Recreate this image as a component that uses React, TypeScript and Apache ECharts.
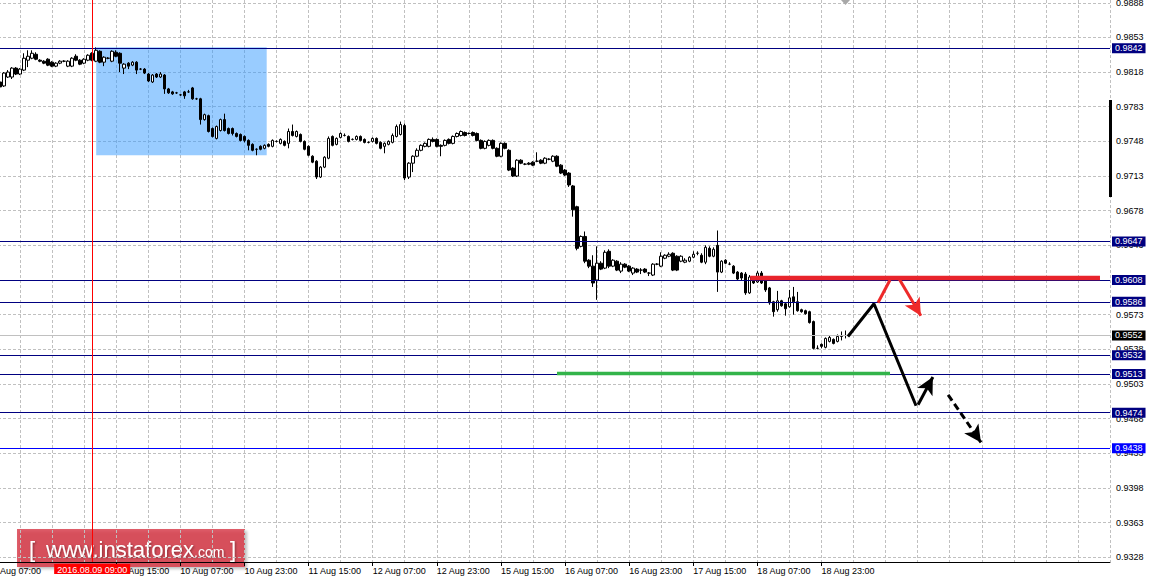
import { useEffect, useRef } from "react";
import * as echarts from "echarts";

// ---------- time slots (H1 bars, weekend skipped) ----------
const tradingDays = ["08", "09", "10", "11", "12", "15", "16", "17", "18", "19", "22", "23"];
const firstHour = 7;
const slotCount = 281;
const lastBarIndex = 214;

function buildTimes(): string[] {
  const out: string[] = [];
  let d = 0;
  let h = firstHour;
  for (let i = 0; i < slotCount; i++) {
    out.push(`${tradingDays[d]} Aug ${String(h).padStart(2, "0")}:00`);
    h++;
    if (h === 24) {
      h = 0;
      d++;
    }
  }
  return out;
}
const times = buildTimes();

// ---------- candles: [open, close, low, high] ----------
const candles: (number[] | null)[] = [
  null, null, null,
  [0.9808, 0.9803, 0.9801, 0.9810], [0.9804, 0.9817, 0.9803, 0.9818], [0.9813, 0.9818, 0.9812, 0.9820],
  [0.9813, 0.9822, 0.9811, 0.9823], [0.9822, 0.9816, 0.9815, 0.9823], [0.9816, 0.9821, 0.9815, 0.9822],
  [0.9820, 0.9832, 0.9819, 0.9837], [0.9830, 0.9834, 0.9823, 0.9840], [0.9832, 0.9837, 0.9831, 0.9840],
  [0.9836, 0.9831, 0.9830, 0.9838], [0.9830, 0.9829, 0.9828, 0.9831], [0.9829, 0.9827, 0.9826, 0.9830],
  [0.9831, 0.9825, 0.9824, 0.9832], [0.9828, 0.9824, 0.9823, 0.9829], [0.9824, 0.9827, 0.9823, 0.9828],
  [0.9827, 0.9829, 0.9826, 0.9830], [0.9829, 0.9829, 0.9828, 0.9830], [0.9824, 0.9829, 0.9823, 0.9830],
  [0.9824, 0.9832, 0.9823, 0.9833], [0.9834, 0.9830, 0.9829, 0.9836], [0.9830, 0.9826, 0.9825, 0.9831],
  [0.9827, 0.9831, 0.9826, 0.9832], [0.9830, 0.9835, 0.9829, 0.9836], [0.9837, 0.9830, 0.9829, 0.9838],
  [0.9829, 0.9840, 0.9828, 0.9843], [0.9839, 0.9828, 0.9827, 0.9840], [0.9828, 0.9833, 0.9824, 0.9834],
  [0.9832, 0.9832, 0.9831, 0.9833], [0.9829, 0.9839, 0.9828, 0.9840], [0.9838, 0.9834, 0.9833, 0.9840],
  [0.9837, 0.9827, 0.9818, 0.9838], [0.9822, 0.9826, 0.9816, 0.9827], [0.9827, 0.9824, 0.9821, 0.9828],
  [0.9825, 0.9828, 0.9824, 0.9829], [0.9828, 0.9820, 0.9816, 0.9829], [0.9821, 0.9821, 0.9820, 0.9822],
  [0.9821, 0.9817, 0.9816, 0.9822], [0.9816, 0.9809, 0.9808, 0.9817], [0.9808, 0.9815, 0.9807, 0.9816],
  [0.9816, 0.9813, 0.9812, 0.9817], [0.9813, 0.9816, 0.9812, 0.9818], [0.9815, 0.9801, 0.9796, 0.9816],
  [0.9801, 0.9797, 0.9796, 0.9802], [0.9798, 0.9796, 0.9795, 0.9799], [0.9797, 0.9797, 0.9796, 0.9798],
  [0.9795, 0.9795, 0.9794, 0.9796], [0.9798, 0.9794, 0.9791, 0.9799], [0.9798, 0.9798, 0.9797, 0.9800],
  [0.9802, 0.9791, 0.9790, 0.9803], [0.9791, 0.9791, 0.9790, 0.9792], [0.9791, 0.9770, 0.9765, 0.9792],
  [0.9770, 0.9775, 0.9769, 0.9776], [0.9774, 0.9758, 0.9757, 0.9775], [0.9761, 0.9753, 0.9752, 0.9762],
  [0.9751, 0.9763, 0.9750, 0.9764], [0.9759, 0.9770, 0.9758, 0.9771], [0.9770, 0.9759, 0.9758, 0.9776],
  [0.9761, 0.9756, 0.9755, 0.9762], [0.9761, 0.9756, 0.9754, 0.9762], [0.9756, 0.9753, 0.9752, 0.9757],
  [0.9755, 0.9749, 0.9748, 0.9756], [0.9753, 0.9749, 0.9747, 0.9754], [0.9749, 0.9744, 0.9739, 0.9750],
  [0.9745, 0.9739, 0.9738, 0.9746], [0.9740, 0.9740, 0.9734, 0.9741], [0.9743, 0.9740, 0.9739, 0.9744],
  [0.9741, 0.9744, 0.9740, 0.9745], [0.9745, 0.9743, 0.9742, 0.9746], [0.9743, 0.9749, 0.9742, 0.9750],
  [0.9748, 0.9748, 0.9747, 0.9749], [0.9746, 0.9750, 0.9745, 0.9751], [0.9748, 0.9744, 0.9743, 0.9749],
  [0.9746, 0.9758, 0.9741, 0.9761], [0.9758, 0.9754, 0.9753, 0.9765], [0.9753, 0.9758, 0.9752, 0.9759],
  [0.9755, 0.9748, 0.9747, 0.9756], [0.9748, 0.9740, 0.9739, 0.9749], [0.9743, 0.9734, 0.9733, 0.9744],
  [0.9733, 0.9727, 0.9726, 0.9734], [0.9728, 0.9712, 0.9710, 0.9729], [0.9712, 0.9722, 0.9711, 0.9723],
  [0.9722, 0.9732, 0.9721, 0.9733], [0.9731, 0.9751, 0.9730, 0.9753], [0.9753, 0.9744, 0.9743, 0.9754],
  [0.9745, 0.9751, 0.9744, 0.9752], [0.9752, 0.9756, 0.9751, 0.9757], [0.9754, 0.9754, 0.9753, 0.9756],
  [0.9753, 0.9748, 0.9747, 0.9754], [0.9750, 0.9750, 0.9749, 0.9751], [0.9750, 0.9753, 0.9749, 0.9754],
  [0.9753, 0.9749, 0.9748, 0.9754], [0.9750, 0.9747, 0.9746, 0.9751], [0.9747, 0.9747, 0.9746, 0.9748],
  [0.9748, 0.9751, 0.9747, 0.9752], [0.9751, 0.9746, 0.9745, 0.9752], [0.9747, 0.9741, 0.9740, 0.9748],
  [0.9743, 0.9746, 0.9736, 0.9747], [0.9745, 0.9748, 0.9744, 0.9749], [0.9747, 0.9754, 0.9746, 0.9756],
  [0.9753, 0.9763, 0.9752, 0.9765], [0.9755, 0.9765, 0.9754, 0.9768], [0.9764, 0.9711, 0.9709, 0.9766],
  [0.9712, 0.9726, 0.9710, 0.9727], [0.9726, 0.9733, 0.9717, 0.9734], [0.9733, 0.9739, 0.9732, 0.9741],
  [0.9739, 0.9744, 0.9738, 0.9745], [0.9743, 0.9746, 0.9742, 0.9747], [0.9743, 0.9750, 0.9742, 0.9751],
  [0.9750, 0.9748, 0.9747, 0.9752], [0.9750, 0.9743, 0.9742, 0.9751], [0.9744, 0.9743, 0.9733, 0.9745],
  [0.9744, 0.9749, 0.9743, 0.9750], [0.9750, 0.9746, 0.9745, 0.9751], [0.9746, 0.9753, 0.9745, 0.9754],
  [0.9753, 0.9756, 0.9752, 0.9757], [0.9754, 0.9758, 0.9753, 0.9759], [0.9757, 0.9754, 0.9753, 0.9758],
  [0.9756, 0.9756, 0.9755, 0.9757], [0.9757, 0.9754, 0.9753, 0.9758], [0.9756, 0.9749, 0.9748, 0.9757],
  [0.9749, 0.9741, 0.9740, 0.9750], [0.9741, 0.9748, 0.9740, 0.9749], [0.9744, 0.9749, 0.9743, 0.9750],
  [0.9749, 0.9741, 0.9740, 0.9750], [0.9741, 0.9733, 0.9732, 0.9742], [0.9733, 0.9746, 0.9732, 0.9747],
  [0.9746, 0.9741, 0.9740, 0.9747], [0.9739, 0.9719, 0.9718, 0.9740], [0.9721, 0.9713, 0.9712, 0.9722],
  [0.9713, 0.9729, 0.9712, 0.9730], [0.9729, 0.9726, 0.9725, 0.9730], [0.9725, 0.9725, 0.9724, 0.9726],
  [0.9726, 0.9725, 0.9724, 0.9727], [0.9727, 0.9724, 0.9723, 0.9728], [0.9728, 0.9728, 0.9727, 0.9737],
  [0.9729, 0.9726, 0.9725, 0.9730], [0.9726, 0.9731, 0.9725, 0.9732], [0.9730, 0.9730, 0.9729, 0.9731],
  [0.9728, 0.9733, 0.9727, 0.9734], [0.9733, 0.9723, 0.9722, 0.9734], [0.9724, 0.9716, 0.9715, 0.9725],
  [0.9719, 0.9714, 0.9713, 0.9720], [0.9716, 0.9704, 0.9702, 0.9717], [0.9703, 0.9679, 0.9672, 0.9704],
  [0.9682, 0.9640, 0.9638, 0.9683], [0.9642, 0.9652, 0.9641, 0.9653], [0.9652, 0.9627, 0.9625, 0.9657],
  [0.9628, 0.9622, 0.9620, 0.9629], [0.9622, 0.9605, 0.9601, 0.9633], [0.9608, 0.9625, 0.9588, 0.9642],
  [0.9625, 0.9619, 0.9618, 0.9627], [0.9620, 0.9636, 0.9619, 0.9638], [0.9637, 0.9622, 0.9620, 0.9639],
  [0.9622, 0.9628, 0.9621, 0.9629], [0.9627, 0.9618, 0.9617, 0.9628], [0.9617, 0.9624, 0.9615, 0.9626],
  [0.9624, 0.9621, 0.9620, 0.9625], [0.9622, 0.9617, 0.9616, 0.9623], [0.9615, 0.9620, 0.9613, 0.9621],
  [0.9619, 0.9616, 0.9615, 0.9620], [0.9618, 0.9618, 0.9614, 0.9620], [0.9619, 0.9616, 0.9615, 0.9620],
  [0.9615, 0.9615, 0.9612, 0.9616], [0.9613, 0.9624, 0.9612, 0.9625], [0.9624, 0.9624, 0.9623, 0.9625],
  [0.9622, 0.9632, 0.9621, 0.9636], [0.9630, 0.9633, 0.9629, 0.9634], [0.9632, 0.9634, 0.9631, 0.9636],
  [0.9635, 0.9618, 0.9617, 0.9636], [0.9632, 0.9618, 0.9617, 0.9633], [0.9627, 0.9632, 0.9626, 0.9633],
  [0.9626, 0.9628, 0.9625, 0.9630], [0.9627, 0.9631, 0.9626, 0.9632], [0.9631, 0.9634, 0.9630, 0.9637],
  [0.9635, 0.9635, 0.9633, 0.9637], [0.9633, 0.9626, 0.9625, 0.9635], [0.9626, 0.9641, 0.9624, 0.9643],
  [0.9640, 0.9632, 0.9631, 0.9642], [0.9632, 0.9639, 0.9631, 0.9641], [0.9643, 0.9616, 0.9596, 0.9658],
  [0.9616, 0.9627, 0.9615, 0.9628], [0.9628, 0.9625, 0.9624, 0.9629], [0.9624, 0.9624, 0.9623, 0.9626],
  [0.9622, 0.9615, 0.9614, 0.9623], [0.9616, 0.9609, 0.9607, 0.9617], [0.9615, 0.9610, 0.9608, 0.9616],
  [0.9614, 0.9595, 0.9593, 0.9616], [0.9595, 0.9611, 0.9594, 0.9613], [0.9611, 0.9605, 0.9604, 0.9612],
  [0.9606, 0.9615, 0.9605, 0.9617], [0.9615, 0.9605, 0.9604, 0.9617], [0.9607, 0.9598, 0.9596, 0.9608],
  [0.9600, 0.9585, 0.9583, 0.9601], [0.9586, 0.9576, 0.9571, 0.9587], [0.9578, 0.9587, 0.9576, 0.9597],
  [0.9587, 0.9582, 0.9581, 0.9588], [0.9584, 0.9579, 0.9572, 0.9585], [0.9581, 0.9590, 0.9580, 0.9598],
  [0.9591, 0.9586, 0.9573, 0.9601], [0.9586, 0.9577, 0.9576, 0.9596], [0.9578, 0.9576, 0.9575, 0.9579],
  [0.9577, 0.9574, 0.9573, 0.9578], [0.9576, 0.9565, 0.9564, 0.9577], [0.9566, 0.9539, 0.9538, 0.9567],
  [0.9539, 0.9539, 0.9538, 0.9542], [0.9543, 0.9541, 0.9539, 0.9544], [0.9540, 0.9549, 0.9539, 0.9550],
  [0.9546, 0.9550, 0.9545, 0.9552], [0.9548, 0.9544, 0.9543, 0.9549], [0.9546, 0.9551, 0.9545, 0.9553],
  [0.9551, 0.9551, 0.9547, 0.9556], [0.9552, 0.9552, 0.9549, 0.9557],
];

// ---------- price scale ----------
const priceMin = 0.93232;
const priceMax = 0.98908;
const priceTicks = [
  0.9888, 0.9853, 0.9818, 0.9783, 0.9748, 0.9713, 0.9678, 0.9643, 0.9608,
  0.9573, 0.9538, 0.9503, 0.9468, 0.9433, 0.9398, 0.9363, 0.9328,
];

// ---------- horizontal levels ----------
const navyLevels = [0.9842, 0.9647, 0.9608, 0.9586, 0.9532, 0.9513, 0.9474];
const blueLevel = 0.9438;
const bidPrice = 0.9552;

// ---------- vertical marker ----------
const markedSlot = 26;
const markedLabel = "2016.08.09 09:00";

// ---------- drawn objects: [slot, price] ----------
const boxCorners = [[27, 0.9843], [69.55, 0.9734]];
const redLevelLine = [[190.2, 0.961], [277.5, 0.961]];
const greenLine = [[142, 0.95135], [225.1, 0.95135]];
const blackPath = [[214.6, 0.9551], [221.1, 0.9584], [231.6, 0.9481]];
const blackUpArrow = [[232.1, 0.9482], [235.8, 0.951]];
const blackDashArrow = [[239.6, 0.9492], [247.8, 0.9444]];
const redRise = [[222.1, 0.9585], [225.1, 0.9608]];
const redArrow = [[227.4, 0.9609], [232.8, 0.9572]];

const FONT = "'Liberation Sans', Arial, sans-serif";

const labelAt = (i: number) => i % 16 === 0 && i <= lastBarIndex && i !== 16;

function levelItem(p: number, color: string, lineColor?: string) {
  return {
    yAxis: p,
    lineStyle: { color: lineColor || color, width: 1, type: "solid" },
    label: {
      show: true,
      position: "end",
      distance: 2,
      formatter: p.toFixed(4),
      backgroundColor: color,
      color: "#ffffff",
      padding: [1, 3, 0, 3],
      fontFamily: FONT,
      fontSize: 9,
    },
  };
}

const textShadow = {
  textShadowColor: "rgba(0,0,0,0.4)",
  textShadowBlur: 2,
  textShadowOffsetX: 1,
  textShadowOffsetY: 1,
};

export default function App() {
  const ref = useRef<HTMLDivElement>(null);

  useEffect(() => {
    if (!ref.current) return;
    const chart = echarts.init(ref.current, undefined, { renderer: "svg" });

    const candleData = candles.map((c) => (c ? c : ["-", "-", "-", "-"]));

    const option: any = {
      animation: false,
      backgroundColor: "#ffffff",
      grid: {
        left: -12,
        right: 41,
        top: 0,
        bottom: 19,
        containLabel: false,
        outerBoundsMode: "none",
      },
      xAxis: [
        {
          type: "category",
          data: times,
          boundaryGap: false,
          axisLine: { show: true, onZero: false, lineStyle: { color: "#000000", width: 1 } },
          axisTick: {
            show: true,
            interval: (i: number) => labelAt(i),
            length: 4,
            lineStyle: { color: "#000000" },
          },
          axisLabel: {
            show: true,
            interval: (i: number) => labelAt(i),
            align: "left",
            margin: 4,
            color: "#000000",
            fontFamily: FONT,
            fontSize: 9,
            hideOverlap: false,
          },
          splitLine: {
            show: true,
            interval: (i: number) => i % 8 === 0,
            lineStyle: { color: "#C0C0C0", type: [3, 2], width: 1 },
          },
        },
        { type: "value", gridIndex: 0, min: 0, max: slotCount - 1, show: false },
      ],
      yAxis: {
        type: "value",
        position: "right",
        min: priceMin,
        max: priceMax,
        axisLine: { show: true, lineStyle: { color: "#000000", width: 1 } },
        axisTick: { show: true, length: 4, customValues: priceTicks, lineStyle: { color: "#000000" } },
        axisLabel: {
          customValues: priceTicks,
          formatter: (v: number) => v.toFixed(4),
          margin: 6,
          color: "#000000",
          fontFamily: FONT,
          fontSize: 9,
        },
        splitLine: { show: true, lineStyle: { color: "#C0C0C0", type: [3, 2], width: 1 } },
      },
      series: [
        {
          type: "candlestick",
          name: "price",
          data: candleData,
          xAxisIndex: 0,
          yAxisIndex: 0,
          barWidth: 3,
          silent: true,
          z: 3,
          itemStyle: {
            color: "#ffffff",
            color0: "#000000",
            borderColor: "#000000",
            borderColor0: "#000000",
            borderWidth: 1,
          },
        },
        {
          type: "line",
          name: "levels",
          xAxisIndex: 1,
          yAxisIndex: 0,
          data: [],
          symbol: "none",
          silent: true,
          z: 2,
          lineStyle: { width: 0 },
          markArea: {
            silent: true,
            itemStyle: { color: "rgba(51,153,255,0.5)" },
            data: [[{ coord: boxCorners[0] }, { coord: boxCorners[1] }]],
          },
          markLine: {
            silent: true,
            animation: false,
            precision: 5,
            z: 4,
            symbol: ["none", "none"],
            data: [
              ...navyLevels.map((p) => levelItem(p, "#000080")),
              levelItem(blueLevel, "#0000FF"),
              levelItem(bidPrice, "#000000", "#C0C0C0"),
              {
                xAxis: markedSlot,
                lineStyle: { color: "#FF0000", width: 1, type: "solid" },
                label: {
                  show: true,
                  position: "start",
                  distance: 2,
                  formatter: markedLabel,
                  backgroundColor: "#FF0000",
                  color: "#ffffff",
                  padding: [1, 3, 0, 3],
                  fontFamily: FONT,
                  fontSize: 9,
                },
              },
            ],
          },
        },
        {
          type: "line",
          name: "support",
          xAxisIndex: 1,
          yAxisIndex: 0,
          data: greenLine,
          symbol: "none",
          silent: true,
          z: 8,
          lineStyle: { color: "#33B44A", width: 3.5 },
        },
        {
          type: "line",
          name: "resistance",
          xAxisIndex: 1,
          yAxisIndex: 0,
          data: redLevelLine,
          symbol: "none",
          silent: true,
          z: 8,
          lineStyle: { color: "#E8242C", width: 4.5 },
          markLine: {
            silent: true,
            animation: false,
            precision: 5,
            z: 8,
            symbol: ["none", "arrow"],
            symbolSize: [13, 17],
            label: { show: false },
            lineStyle: { color: "#EE2A2A", width: 3, type: "solid" },
            data: [
              [
                { coord: redRise[0], symbol: "none" },
                { coord: redRise[1], symbol: "none" },
              ],
              [{ coord: redArrow[0] }, { coord: redArrow[1] }],
            ],
          },
        },
        {
          type: "line",
          name: "forecast",
          xAxisIndex: 1,
          yAxisIndex: 0,
          data: blackPath,
          symbol: "none",
          silent: true,
          z: 8,
          lineStyle: { color: "#000000", width: 3 },
          markLine: {
            silent: true,
            animation: false,
            precision: 5,
            z: 8,
            symbol: ["none", "arrow"],
            symbolSize: [13, 17],
            label: { show: false },
            lineStyle: { color: "#000000", width: 3, type: "solid" },
            data: [
              [{ coord: blackUpArrow[0] }, { coord: blackUpArrow[1] }],
              [
                { coord: blackDashArrow[0], lineStyle: { type: [7, 4], color: "#000000", width: 3 } },
                { coord: blackDashArrow[1] },
              ],
            ],
          },
        },
      ],
      graphic: [
        {
          type: "polygon",
          shape: { points: [[841, 0], [850, 0], [845.5, 5]] },
          style: { fill: "#A8A8A8" },
          silent: true,
          z: 50,
        },
        {
          type: "rect",
          shape: { x: 1109, y: 100, width: 3, height: 97 },
          style: { fill: "#000000" },
          silent: true,
          z: 50,
        },
        {
          type: "group",
          z: 100,
          silent: true,
          children: [
            {
              type: "rect",
              shape: { x: 17, y: 529, width: 228, height: 38 },
              style: {
                fill: "rgba(212,37,48,0.72)",
                shadowBlur: 3,
                shadowColor: "rgba(0,0,0,0.35)",
                shadowOffsetX: 2,
                shadowOffsetY: 2,
              },
            },
            {
              type: "text",
              x: 29,
              y: 549,
              style: { text: "[", fill: "#ffffff", font: `22px ${FONT}`, verticalAlign: "middle", ...textShadow },
            },
            {
              type: "text",
              x: 46,
              y: 549,
              style: {
                text: "www.instaforex",
                fill: "#ffffff",
                font: `22px ${FONT}`,
                verticalAlign: "middle",
                ...textShadow,
              },
            },
            {
              type: "text",
              x: 194,
              y: 552,
              style: { text: ".com", fill: "#ffffff", font: `14px ${FONT}`, verticalAlign: "middle", ...textShadow },
            },
            {
              type: "text",
              x: 230,
              y: 549,
              style: { text: "]", fill: "#ffffff", font: `22px ${FONT}`, verticalAlign: "middle", ...textShadow },
            },
          ],
        },
      ],
    };

    chart.setOption(option);
    return () => chart.dispose();
  }, []);

  return (
    <div
      ref={ref}
      style={{ position: "fixed", left: 0, top: 0, width: 1151, height: 581, background: "#ffffff" }}
    />
  );
}
